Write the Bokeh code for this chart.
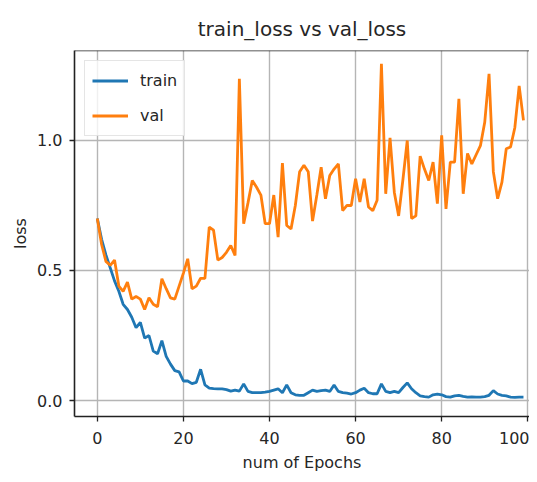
from bokeh.plotting import figure
from bokeh.models import FixedTicker, PrintfTickFormatter, Span, Range1d
from bokeh.embed import file_html
from bokeh.resources import INLINE

epochs = list(range(100))

train_loss = [0.70, 0.62, 0.56, 0.51, 0.46, 0.42, 0.37, 0.35, 0.32, 0.28,
              0.30, 0.24, 0.25, 0.19, 0.18, 0.23, 0.17, 0.14, 0.115, 0.11,
              0.075, 0.075, 0.065, 0.07, 0.12, 0.06, 0.048, 0.046, 0.045, 0.045,
              0.042, 0.036, 0.04, 0.036, 0.064, 0.035, 0.03, 0.03, 0.03, 0.032,
              0.035, 0.04, 0.045, 0.03, 0.06, 0.03, 0.022, 0.02, 0.02, 0.03,
              0.04, 0.035, 0.038, 0.04, 0.035, 0.06, 0.035, 0.03, 0.028, 0.025,
              0.03, 0.04, 0.047, 0.03, 0.026, 0.026, 0.064, 0.035, 0.03, 0.035,
              0.03, 0.05, 0.068, 0.045, 0.03, 0.018, 0.015, 0.013, 0.022, 0.025,
              0.022, 0.015, 0.013, 0.018, 0.02, 0.016, 0.013, 0.014, 0.013, 0.013,
              0.015, 0.02, 0.038, 0.025, 0.02, 0.018, 0.013, 0.012, 0.013, 0.013]

val_loss = [0.70, 0.60, 0.535, 0.52, 0.54, 0.44, 0.42, 0.455, 0.39, 0.40,
            0.39, 0.35, 0.395, 0.37, 0.36, 0.468, 0.43, 0.395, 0.39, 0.44,
            0.49, 0.545, 0.43, 0.44, 0.47, 0.47, 0.667, 0.655, 0.54, 0.55,
            0.57, 0.596, 0.558, 1.237, 0.68, 0.76, 0.846, 0.82, 0.79, 0.68,
            0.68, 0.79, 0.628, 0.913, 0.673, 0.66, 0.75, 0.88, 0.905, 0.88,
            0.69, 0.79, 0.897, 0.776, 0.865, 0.89, 0.91, 0.73, 0.75, 0.75,
            0.853, 0.763, 0.853, 0.744, 0.73, 0.77, 1.295, 0.795, 1.01, 0.80,
            0.71, 0.85, 1.0, 0.70, 0.71, 0.94, 0.89, 0.846, 0.917, 0.757,
            1.02, 0.737, 0.917, 0.917, 1.16, 0.795, 0.95, 0.91, 0.945, 0.98,
            1.07, 1.256, 0.88, 0.776, 0.84, 0.968, 0.975, 1.05, 1.21, 1.077]

x_ticks = [0, 20, 40, 60, 80, 100]
y_ticks = [0.0, 0.5, 1.0]

FONT = "DejaVu Sans"
TXT = "#262626"

p = figure(width=529, height=474, output_backend="svg", toolbar_location=None,
           x_range=Range1d(-5.3, 100.4), y_range=Range1d(-0.0615, 1.346),
           min_border_left=74, min_border_top=50, min_border_bottom=58,
           min_border_right=0, title="train_loss vs val_loss")

p.title.text_font = FONT
p.title.text_font_size = "20px"
p.title.text_font_style = "normal"
p.title.text_color = TXT
p.title.align = "center"
p.title.standoff = 20

p.line(epochs, train_loss, line_color="#1f77b4", line_width=2.8, legend_label="train")
p.line(epochs, val_loss, line_color="#ff7f0e", line_width=2.8, legend_label="val")

p.outline_line_color = None
p.add_layout(Span(location=1.346, dimension="width", line_color="#222222", line_width=1.6))

for ax in (p.xaxis[0], p.yaxis[0]):
    ax.axis_line_color = "#222222"
    ax.axis_line_width = 1.6
    ax.major_tick_line_color = "#222222"
    ax.major_tick_line_width = 1.3
    ax.major_tick_out = 5
    ax.major_tick_in = 0
    ax.minor_tick_line_color = None
    ax.major_label_text_font = FONT
    ax.major_label_text_font_size = "16px"
    ax.major_label_text_color = TXT
    ax.axis_label_text_font = FONT
    ax.axis_label_text_font_size = "16px"
    ax.axis_label_text_font_style = "normal"
    ax.axis_label_text_color = TXT

p.xaxis.ticker = FixedTicker(ticks=x_ticks)
p.yaxis.ticker = FixedTicker(ticks=y_ticks)
p.yaxis.formatter = PrintfTickFormatter(format="%.1f")
p.xaxis.axis_label = "num of Epochs"
p.yaxis.axis_label = "loss"
p.xaxis.major_label_standoff = 10
p.xaxis.axis_label_standoff = 6
p.yaxis.major_label_standoff = 7
p.yaxis.axis_label_standoff = 4

p.grid.grid_line_color = "#b5b5b5"
p.grid.grid_line_width = 1.4

lg = p.legend[0]
lg.location = "top_left"
lg.margin = 10
lg.padding = 7
lg.spacing = 10
lg.label_height = 25
lg.glyph_height = 25
lg.glyph_width = 36
lg.label_standoff = 12
lg.label_text_font = FONT
lg.label_text_font_size = "16px"
lg.label_text_color = TXT
lg.border_line_color = "#cccccc"
lg.border_line_width = 1.2
lg.background_fill_alpha = 0.8

open("out.html", "w").write(file_html(p, INLINE))
